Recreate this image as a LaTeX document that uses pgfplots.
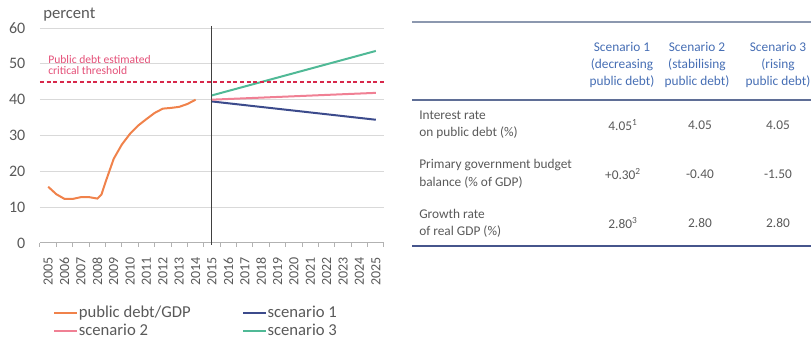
\documentclass[border=0pt]{standalone}
\usepackage{pgfplots}
\pgfplotsset{compat=1.18}
\usepackage{fontspec}
\setmainfont{Carlito}
\definecolor{cOrange}{RGB}{240,130,75}
\definecolor{cPink}{RGB}{240,128,148}
\definecolor{cBlue}{RGB}{60,75,140}
\definecolor{cGreen}{RGB}{80,185,150}
\definecolor{threshcol}{RGB}{215,40,75}
\definecolor{cThrTxt}{RGB}{228,80,120}
\definecolor{cGrid}{RGB}{217,217,217}
\definecolor{cTxt}{RGB}{89,89,89}
\definecolor{cHead}{RGB}{70,110,180}
\definecolor{cLineA}{RGB}{140,152,175}
\definecolor{cLineB}{RGB}{95,110,150}
\definecolor{cLineC}{RGB}{70,85,140}
\begin{document}
\begin{tikzpicture}
\path[use as bounding box] (0,0) rectangle (608.25pt,254.25pt);
\begin{axis}[
  at={(30pt,72pt)}, anchor=south west, scale only axis,
  width=258pt, height=161.25pt,
  xmin=2004.5, xmax=2025.5, ymin=0, ymax=60,
  clip=false,
  axis x line*=bottom, axis y line*=left,
  y axis line style={draw=none},
  x axis line style={draw=black!30, line width=0.75pt},
  xtick={2005,2006,...,2025},
  minor xtick={2004.5,2005.5,...,2025.5},
  major tick length=0pt, minor tick length=3pt,
  tick align=outside,
  minor x tick style={draw=black!30, line width=0.75pt},
  ytick={0,10,...,60},
  ytick style={draw=none},
  ymajorgrids, grid style={cGrid, line width=0.75pt},
  /pgf/number format/1000 sep={},
  /pgf/number format/assume math mode=true,
  xticklabel style={yshift=-7pt, rotate=90, anchor=east, font=\fontsize{10.5}{10.5}\selectfont, text=cTxt},
  yticklabel style={anchor=east, font=\fontsize{12}{12}\selectfont, text=cTxt, xshift=-7.5pt},
  legend columns=2,
  legend style={at={(rel axis cs:0.038,-0.29)}, anchor=north west, draw=none, fill=none,
    font=\fontsize{12.5}{14}\selectfont, text=cTxt, inner sep=0pt,
    nodes={inner sep=0.6pt}, row sep=2pt,
    /tikz/every even column/.append style={column sep=38pt}},
  legend cell align=left,
  legend image code/.code={\draw[#1] (0pt,0pt) -- (17pt,0pt);},
]
\addplot[forget plot, draw=black!75, line width=0.75pt] coordinates {(2015,60.6) (2015,-0.6)};
\addplot[draw=cOrange, line width=1.5pt] coordinates {
(2005.0,15.7) (2005.5,13.6) (2006.0,12.3) (2006.5,12.3) (2007.0,12.8) (2007.5,12.8)
(2008.0,12.4) (2008.25,13.5) (2008.5,17.0) (2009.0,23.5) (2009.5,27.5) (2010.0,30.5)
(2010.5,32.8) (2011.0,34.6) (2011.5,36.3) (2012.0,37.5) (2012.5,37.7) (2013.0,38.0)
(2013.5,38.8) (2014.0,40.0)};
\addlegendentry{public debt/GDP}
\addplot[draw=cBlue, line width=1.5pt] coordinates {(2015,39.5) (2025,34.4)};
\addlegendentry{scenario 1}
\addplot[draw=cPink, line width=1.5pt] coordinates {(2015,40.0) (2025,41.9)};
\addlegendentry{scenario 2}
\addplot[draw=cGreen, line width=1.5pt] coordinates {(2015,41.2) (2025,53.6)};
\addlegendentry{scenario 3}
\addplot[forget plot, draw=threshcol, line width=1.3pt, densely dashed] coordinates {(2004.5,45) (2025.5,45)};
\end{axis}
\begin{scope}[shift={(0pt,254.25pt)}, x=0.75pt, y=-0.75pt]
\node[anchor=west, text=cTxt, font=\fontsize{12.5}{12.5}\selectfont, inner sep=0pt] at (43,15) {percent};
\node[anchor=west, text=cThrTxt, font=\fontsize{8.7}{8.7}\selectfont, inner sep=0pt] at (48,60) {Public debt estimated};
\node[anchor=west, text=cThrTxt, font=\fontsize{8.7}{8.7}\selectfont, inner sep=0pt] at (48,71) {critical threshold};
% table rules
\draw[cLineA, line width=2.2pt] (412,22) -- (811,22);
\draw[cLineB, line width=2.2pt] (412,100) -- (811,100);
\draw[cLineC, line width=1.5pt] (412,246) -- (811,246);
\begin{scope}[every node/.style={font=\fontsize{10}{10}\selectfont, inner sep=0pt}]
\node[text=cHead] at (622,47) {Scenario 1};
\node[text=cHead] at (697,47) {Scenario 2};
\node[text=cHead] at (778,47) {Scenario 3};
\node[text=cHead] at (622,65) {(decreasing};
\node[text=cHead] at (697,65) {(stabilising};
\node[text=cHead] at (778,65) {(rising};
\node[text=cHead] at (622,82) {public debt)};
\node[text=cHead] at (697,82) {public debt)};
\node[text=cHead] at (778,82) {public debt)};
\node[text=cTxt, anchor=west] at (419,115) {Interest rate};
\node[text=cTxt, anchor=west] at (419,133) {on public debt (\%)};
\node[text=cTxt, anchor=west] at (419,165) {Primary government budget};
\node[text=cTxt, anchor=west] at (419,183) {balance (\% of GDP)};
\node[text=cTxt, anchor=west] at (419,214) {Growth rate};
\node[text=cTxt, anchor=west] at (419,232) {of real GDP (\%)};
\node[text=cTxt] at (623,125) {4.05\textsuperscript{1}};
\node[text=cTxt] at (700,125) {4.05};
\node[text=cTxt] at (778,125) {4.05};
\node[text=cTxt] at (623,174) {+0.30\textsuperscript{2}};
\node[text=cTxt] at (700,174) {-0.40};
\node[text=cTxt] at (778,174) {-1.50};
\node[text=cTxt] at (623,223) {2.80\textsuperscript{3}};
\node[text=cTxt] at (700,223) {2.80};
\node[text=cTxt] at (778,223) {2.80};
\end{scope}
\end{scope}
\end{tikzpicture}
\end{document}
